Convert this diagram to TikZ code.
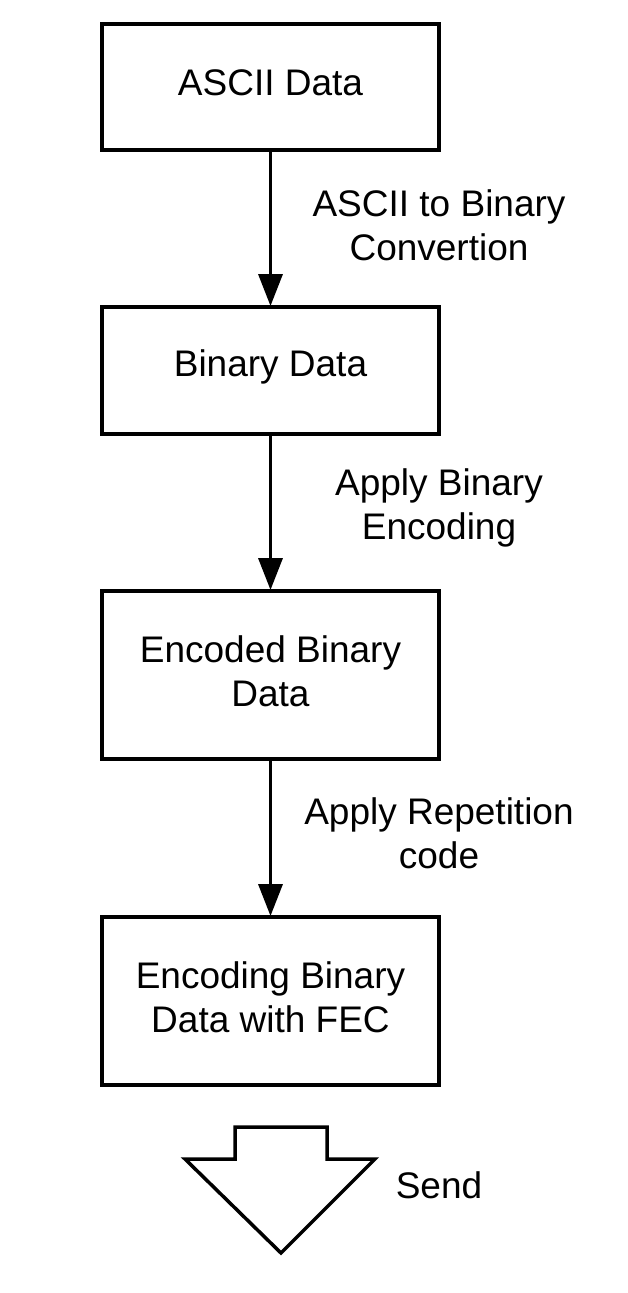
\documentclass[tikz,border=0pt]{standalone}
\usepackage{fontspec}
\setmainfont{Liberation Sans}
\usetikzlibrary{arrows.meta}
\begin{document}
\begin{tikzpicture}[x=1pt,y=-1pt,
  every node/.style={font=\fontsize{37}{44}\selectfont, align=center, inner sep=0pt},
  stepbox/.style={draw, line width=3.5pt, outer sep=0pt, minimum width=337pt, anchor=north},
  flow/.style={line width=3.5pt, -{Triangle[length=32pt,width=24pt]}, shorten >=1pt},
  lbl/.style={}]
\useasboundingbox (0,0) rectangle (627,1293);
\node[stepbox, minimum height=126pt] (a) at (270.5,24) {};
\node[stepbox, minimum height=127pt] (b) at (270.5,307) {};
\node[stepbox, minimum height=168pt] (c) at (270.5,591) {};
\node[stepbox, minimum height=168pt] (d) at (270.5,917) {};
\node (ta) at ([yshift=4pt]a.center) {ASCII Data};
\node (tb) at ([yshift=4pt]b.center) {Binary Data};
\node (tc) at ([yshift=4pt]c.center) {Encoded Binary\\Data};
\node (td) at ([yshift=4pt]d.center) {Encoding Binary\\Data with FEC};
\draw[flow] (a) -- (b);
\draw[flow] (b) -- (c);
\draw[flow] (c) -- (d);
\node[lbl] (la) at (439,225) {ASCII to Binary\\Convertion};
\node[lbl] (lb) at (439,508) {Apply Binary\\Encoding};
\node[lbl] (lc) at (439,833) {Apply Repetition\\code};
\draw[line width=3.5pt, line join=miter] (235,1127) -- (327,1127) -- (327,1159) -- (375,1159) -- (281,1253) -- (185,1159) -- (235,1159) -- cycle;
\node[lbl] (ls) at (439,1185) {Send};
\end{tikzpicture}
\end{document}
